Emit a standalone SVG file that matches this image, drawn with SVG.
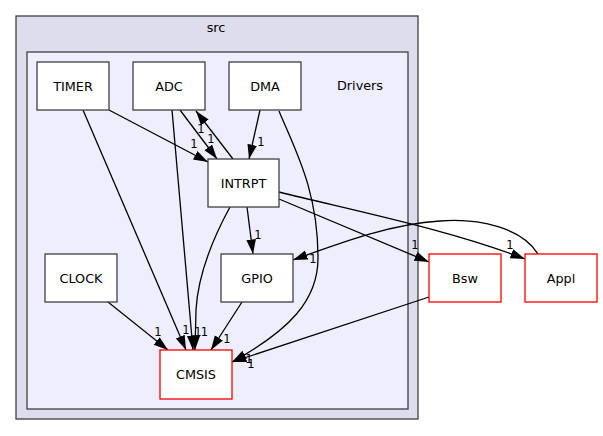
<svg xmlns="http://www.w3.org/2000/svg" width="603" height="436" viewBox="0 0 603 436">
<style>
text{font-family:"DejaVu Sans","Liberation Sans",sans-serif;font-size:12.8px;fill:#000;text-anchor:middle}
.el{font-size:11.5px}
.node rect{fill:#fff;stroke:#404040;stroke-width:1.3}
.node.ext rect{stroke:#ff0000}
.edges path{fill:none;stroke:#000;stroke-width:1.3}
</style>
<defs>
<marker id="ah" markerUnits="userSpaceOnUse" markerWidth="16" markerHeight="11" refX="14.5" refY="4.8" orient="auto">
<path d="M0,0 L14.5,4.8 L0,9.6 z" fill="#000"/>
</marker>
</defs>
<rect width="603" height="436" fill="#fff"/>
<g id="cluster_src">
<rect x="16" y="16" width="402" height="403" fill="#ddddee" stroke="#404040" stroke-width="1.3"/>
<text x="216" y="32">src</text>
</g>
<g id="cluster_Drivers">
<rect x="27" y="52" width="381" height="357" fill="#eeeeff" stroke="#404040" stroke-width="1.3"/>
<text x="360" y="90">Drivers</text>
</g>
<g class="edges" id="edges">
<path d="M109,110 L208,162" marker-end="url(#ah)"/>
<path d="M83,110 L186,350" marker-end="url(#ah)"/>
<path d="M180,110 L217,159" marker-end="url(#ah)"/>
<path d="M233,159 L196,111" marker-end="url(#ah)"/>
<path d="M172,110 L193,350" marker-end="url(#ah)"/>
<path d="M260,110 L249,159" marker-end="url(#ah)"/>
<path d="M279,111 C295,150 318,190 318,258 C318,300 290,330 232,362" marker-end="url(#ah)"/>
<path d="M247,207 L253,254" marker-end="url(#ah)"/>
<path d="M230,207 C212,240 198,275 196,310 L195,350" marker-end="url(#ah)"/>
<path d="M279,199 L429,262" marker-end="url(#ah)"/>
<path d="M279,192 C360,212 450,230 525,259" marker-end="url(#ah)"/>
<path d="M538,254 C522,228 480,218 440,221 C390,224 340,243 293,260" marker-end="url(#ah)"/>
<path d="M242,302 L211,350" marker-end="url(#ah)"/>
<path d="M108,302 L168,350" marker-end="url(#ah)"/>
<path d="M429,297 L232,362" marker-end="url(#ah)"/>
<text class="el" x="194" y="148">1</text>
<text class="el" x="186" y="334">1</text>
<text class="el" x="211" y="143">1</text>
<text class="el" x="201" y="133">1</text>
<text class="el" x="198" y="336">1</text>
<text class="el" x="261" y="146">1</text>
<text class="el" x="251" y="368">1</text>
<text class="el" x="258" y="239">1</text>
<text class="el" x="204.5" y="336">1</text>
<text class="el" x="415" y="249">1</text>
<text class="el" x="510" y="249">1</text>
<text class="el" x="313" y="263">1</text>
<text class="el" x="227" y="343">1</text>
<text class="el" x="158" y="336">1</text>
<text class="el" x="249" y="363">1</text>
</g>
<g class="node" id="node_TIMER"><rect x="37" y="62" width="72" height="48"/><text x="73" y="90.5">TIMER</text></g>
<g class="node" id="node_ADC"><rect x="133" y="62" width="72" height="48"/><text x="169" y="90.5">ADC</text></g>
<g class="node" id="node_DMA"><rect x="229" y="62" width="72" height="48"/><text x="265" y="90.5">DMA</text></g>
<g class="node" id="node_INTRPT"><rect x="208" y="159" width="71" height="48"/><text x="243.5" y="187.5">INTRPT</text></g>
<g class="node" id="node_CLOCK"><rect x="45" y="254" width="72" height="48"/><text x="81" y="282.5">CLOCK</text></g>
<g class="node" id="node_GPIO"><rect x="221" y="254" width="72" height="48"/><text x="257" y="282.5">GPIO</text></g>
<g class="node ext" id="node_CMSIS"><rect x="160" y="350" width="72" height="49"/><text x="196" y="379">CMSIS</text></g>
<g class="node ext" id="node_Bsw"><rect x="429" y="254" width="72" height="48"/><text x="465" y="282.5">Bsw</text></g>
<g class="node ext" id="node_Appl"><rect x="525" y="254" width="72" height="48"/><text x="561" y="282.5">Appl</text></g>
</svg>
